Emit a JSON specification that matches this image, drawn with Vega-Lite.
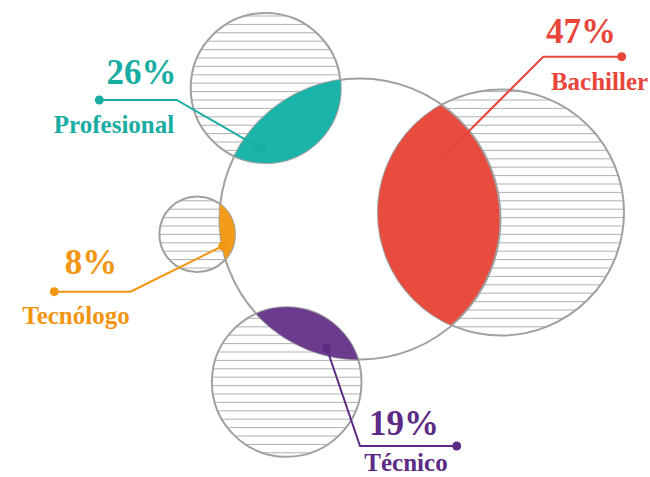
{
  "$schema": "https://vega.github.io/schema/vega-lite/v6.json",
  "width": 650,
  "height": 477,
  "autosize": {"type": "none"},
  "padding": 0,
  "background": "white",
  "config": {"view": {"stroke": null}},
  "datasets": {
    "circles": [
      {"name": "Centro", "kind": "center", "cx": 360, "cy": 219, "r": 140.5},
      {"name": "Profesional", "kind": "outer", "cx": 265.7, "cy": 88, "r": 75},
      {"name": "Bachiller", "kind": "outer", "cx": 501, "cy": 212.5, "r": 123},
      {"name": "Tecnólogo", "kind": "outer", "cx": 197.2, "cy": 234.2, "r": 37.8},
      {"name": "Técnico", "kind": "outer", "cx": 286.7, "cy": 382, "r": 74.8}
    ],
    "hatch": [
      {"g": "Profesional", "y": 16.0, "x1": 190.7, "x2": 340.7},
      {"g": "Profesional", "y": 24.4, "x1": 190.7, "x2": 340.7},
      {"g": "Profesional", "y": 32.8, "x1": 190.7, "x2": 340.7},
      {"g": "Profesional", "y": 41.2, "x1": 190.7, "x2": 340.7},
      {"g": "Profesional", "y": 49.6, "x1": 190.7, "x2": 340.7},
      {"g": "Profesional", "y": 58.0, "x1": 190.7, "x2": 340.7},
      {"g": "Profesional", "y": 66.4, "x1": 190.7, "x2": 340.7},
      {"g": "Profesional", "y": 74.8, "x1": 190.7, "x2": 340.7},
      {"g": "Profesional", "y": 83.2, "x1": 190.7, "x2": 340.7},
      {"g": "Profesional", "y": 91.6, "x1": 190.7, "x2": 340.7},
      {"g": "Profesional", "y": 100.0, "x1": 190.7, "x2": 340.7},
      {"g": "Profesional", "y": 108.4, "x1": 190.7, "x2": 340.7},
      {"g": "Profesional", "y": 116.8, "x1": 190.7, "x2": 340.7},
      {"g": "Profesional", "y": 125.2, "x1": 190.7, "x2": 340.7},
      {"g": "Profesional", "y": 133.6, "x1": 190.7, "x2": 340.7},
      {"g": "Profesional", "y": 142.0, "x1": 190.7, "x2": 340.7},
      {"g": "Profesional", "y": 150.4, "x1": 190.7, "x2": 340.7},
      {"g": "Profesional", "y": 158.8, "x1": 190.7, "x2": 340.7},
      {"g": "Bachiller", "y": 91.6, "x1": 378, "x2": 624},
      {"g": "Bachiller", "y": 100.0, "x1": 378, "x2": 624},
      {"g": "Bachiller", "y": 108.4, "x1": 378, "x2": 624},
      {"g": "Bachiller", "y": 116.8, "x1": 378, "x2": 624},
      {"g": "Bachiller", "y": 125.2, "x1": 378, "x2": 624},
      {"g": "Bachiller", "y": 133.6, "x1": 378, "x2": 624},
      {"g": "Bachiller", "y": 142.0, "x1": 378, "x2": 624},
      {"g": "Bachiller", "y": 150.4, "x1": 378, "x2": 624},
      {"g": "Bachiller", "y": 158.8, "x1": 378, "x2": 624},
      {"g": "Bachiller", "y": 167.2, "x1": 378, "x2": 624},
      {"g": "Bachiller", "y": 175.6, "x1": 378, "x2": 624},
      {"g": "Bachiller", "y": 184.0, "x1": 378, "x2": 624},
      {"g": "Bachiller", "y": 192.4, "x1": 378, "x2": 624},
      {"g": "Bachiller", "y": 200.8, "x1": 378, "x2": 624},
      {"g": "Bachiller", "y": 209.2, "x1": 378, "x2": 624},
      {"g": "Bachiller", "y": 217.6, "x1": 378, "x2": 624},
      {"g": "Bachiller", "y": 226.0, "x1": 378, "x2": 624},
      {"g": "Bachiller", "y": 234.4, "x1": 378, "x2": 624},
      {"g": "Bachiller", "y": 242.8, "x1": 378, "x2": 624},
      {"g": "Bachiller", "y": 251.2, "x1": 378, "x2": 624},
      {"g": "Bachiller", "y": 259.6, "x1": 378, "x2": 624},
      {"g": "Bachiller", "y": 268.0, "x1": 378, "x2": 624},
      {"g": "Bachiller", "y": 276.4, "x1": 378, "x2": 624},
      {"g": "Bachiller", "y": 284.8, "x1": 378, "x2": 624},
      {"g": "Bachiller", "y": 293.2, "x1": 378, "x2": 624},
      {"g": "Bachiller", "y": 301.6, "x1": 378, "x2": 624},
      {"g": "Bachiller", "y": 310.0, "x1": 378, "x2": 624},
      {"g": "Bachiller", "y": 318.4, "x1": 378, "x2": 624},
      {"g": "Bachiller", "y": 326.8, "x1": 378, "x2": 624},
      {"g": "Tecnólogo", "y": 200.8, "x1": 159.4, "x2": 235},
      {"g": "Tecnólogo", "y": 209.2, "x1": 159.4, "x2": 235},
      {"g": "Tecnólogo", "y": 217.6, "x1": 159.4, "x2": 235},
      {"g": "Tecnólogo", "y": 226.0, "x1": 159.4, "x2": 235},
      {"g": "Tecnólogo", "y": 234.4, "x1": 159.4, "x2": 235},
      {"g": "Tecnólogo", "y": 242.8, "x1": 159.4, "x2": 235},
      {"g": "Tecnólogo", "y": 251.2, "x1": 159.4, "x2": 235},
      {"g": "Tecnólogo", "y": 259.6, "x1": 159.4, "x2": 235},
      {"g": "Tecnólogo", "y": 268.0, "x1": 159.4, "x2": 235},
      {"g": "Técnico", "y": 310.0, "x1": 211.9, "x2": 361.5},
      {"g": "Técnico", "y": 318.4, "x1": 211.9, "x2": 361.5},
      {"g": "Técnico", "y": 326.8, "x1": 211.9, "x2": 361.5},
      {"g": "Técnico", "y": 335.2, "x1": 211.9, "x2": 361.5},
      {"g": "Técnico", "y": 343.6, "x1": 211.9, "x2": 361.5},
      {"g": "Técnico", "y": 352.0, "x1": 211.9, "x2": 361.5},
      {"g": "Técnico", "y": 360.4, "x1": 211.9, "x2": 361.5},
      {"g": "Técnico", "y": 368.8, "x1": 211.9, "x2": 361.5},
      {"g": "Técnico", "y": 377.2, "x1": 211.9, "x2": 361.5},
      {"g": "Técnico", "y": 385.6, "x1": 211.9, "x2": 361.5},
      {"g": "Técnico", "y": 394.0, "x1": 211.9, "x2": 361.5},
      {"g": "Técnico", "y": 402.4, "x1": 211.9, "x2": 361.5},
      {"g": "Técnico", "y": 410.8, "x1": 211.9, "x2": 361.5},
      {"g": "Técnico", "y": 419.2, "x1": 211.9, "x2": 361.5},
      {"g": "Técnico", "y": 427.6, "x1": 211.9, "x2": 361.5},
      {"g": "Técnico", "y": 436.0, "x1": 211.9, "x2": 361.5},
      {"g": "Técnico", "y": 444.4, "x1": 211.9, "x2": 361.5},
      {"g": "Técnico", "y": 452.8, "x1": 211.9, "x2": 361.5}
    ],
    "lensBach": [
      {"g": "Bachiller", "y": 104.7, "xa": 441.75, "xb": 441.75},
      {"g": "Bachiller", "y": 107, "xa": 437.76, "xb": 444.83},
      {"g": "Bachiller", "y": 110, "xa": 433.01, "xb": 448.65},
      {"g": "Bachiller", "y": 115, "xa": 426.01, "xb": 454.47},
      {"g": "Bachiller", "y": 122, "xa": 417.70, "xb": 461.64},
      {"g": "Bachiller", "y": 130, "xa": 409.77, "xb": 468.72},
      {"g": "Bachiller", "y": 140, "xa": 401.64, "xb": 476.19},
      {"g": "Bachiller", "y": 152, "xa": 393.91, "xb": 483.50},
      {"g": "Bachiller", "y": 166, "xa": 387.13, "xb": 490.12},
      {"g": "Bachiller", "y": 182, "xa": 381.84, "xb": 495.54},
      {"g": "Bachiller", "y": 198, "xa": 378.86, "xb": 498.92},
      {"g": "Bachiller", "y": 212.5, "xa": 378.0, "xb": 500.35},
      {"g": "Bachiller", "y": 228, "xa": 378.98, "xb": 500.21},
      {"g": "Bachiller", "y": 244, "xa": 382.10, "xb": 498.26},
      {"g": "Bachiller", "y": 260, "xa": 387.54, "xb": 494.38},
      {"g": "Bachiller", "y": 275, "xa": 395.06, "xb": 488.86},
      {"g": "Bachiller", "y": 290, "xa": 405.49, "xb": 481.24},
      {"g": "Bachiller", "y": 302, "xa": 416.63, "xb": 473.36},
      {"g": "Bachiller", "y": 312, "xa": 428.69, "xb": 465.32},
      {"g": "Bachiller", "y": 319, "xa": 439.46, "xb": 458.69},
      {"g": "Bachiller", "y": 323, "xa": 446.97, "xb": 454.47},
      {"g": "Bachiller", "y": 325.3, "xa": 451.9, "xb": 451.9}
    ],
    "lensTecn": [
      {"g": "Tecnólogo", "y": 204.25, "xa": 220.3, "xb": 220.3},
      {"g": "Tecnólogo", "y": 207, "xa": 220.01, "xb": 223.45},
      {"g": "Tecnólogo", "y": 211, "xa": 219.73, "xb": 227.04},
      {"g": "Tecnólogo", "y": 216, "xa": 219.53, "xb": 230.33},
      {"g": "Tecnólogo", "y": 222, "xa": 219.53, "xb": 232.98},
      {"g": "Tecnólogo", "y": 228, "xa": 219.79, "xb": 234.49},
      {"g": "Tecnólogo", "y": 234.2, "xa": 220.32, "xb": 235.0},
      {"g": "Tecnólogo", "y": 240, "xa": 221.08, "xb": 234.55},
      {"g": "Tecnólogo", "y": 246, "xa": 222.12, "xb": 233.11},
      {"g": "Tecnólogo", "y": 251, "xa": 223.19, "xb": 231.06},
      {"g": "Tecnólogo", "y": 255, "xa": 224.19, "xb": 228.76},
      {"g": "Tecnólogo", "y": 258, "xa": 225.02, "xb": 226.57},
      {"g": "Tecnólogo", "y": 259.4, "xa": 225.4, "xb": 225.4}
    ],
    "lensV": [
      {"g": "Profesional", "x": 234.3, "ya": 156.2, "yb": 156.2},
      {"g": "Profesional", "x": 236, "ya": 152.94, "yb": 156.87},
      {"g": "Profesional", "x": 239, "ya": 147.59, "yb": 158.09},
      {"g": "Profesional", "x": 244, "ya": 139.73, "yb": 159.79},
      {"g": "Profesional", "x": 250, "ya": 131.59, "yb": 161.34},
      {"g": "Profesional", "x": 258, "ya": 122.38, "yb": 162.60},
      {"g": "Profesional", "x": 267, "ya": 113.68, "yb": 162.99},
      {"g": "Profesional", "x": 277, "ya": 105.64, "yb": 162.14},
      {"g": "Profesional", "x": 287, "ya": 98.95, "yb": 159.91},
      {"g": "Profesional", "x": 297, "ya": 93.42, "yb": 156.16},
      {"g": "Profesional", "x": 307, "ya": 88.88, "yb": 150.60},
      {"g": "Profesional", "x": 316, "ya": 85.57, "yb": 143.63},
      {"g": "Profesional", "x": 324, "ya": 83.19, "yb": 135.18},
      {"g": "Profesional", "x": 330, "ya": 81.74, "yb": 126.61},
      {"g": "Profesional", "x": 335, "ya": 80.74, "yb": 116.68},
      {"g": "Profesional", "x": 338, "ya": 80.23, "yb": 107.94},
      {"g": "Profesional", "x": 339.5, "ya": 80.0, "yb": 101.36},
      {"g": "Profesional", "x": 340.3, "ya": 80.26, "yb": 95.74},
      {"g": "Profesional", "x": 340.5, "ya": 82.53, "yb": 93.47},
      {"g": "Profesional", "x": 340.7, "ya": 88, "yb": 88},
      {"g": "Técnico", "x": 256.3, "ya": 313.7, "yb": 313.7},
      {"g": "Técnico", "x": 260, "ya": 312.13, "yb": 317.69},
      {"g": "Técnico", "x": 266, "ya": 310.12, "yb": 323.42},
      {"g": "Técnico", "x": 274, "ya": 308.29, "yb": 330.11},
      {"g": "Técnico", "x": 284, "ya": 307.25, "yb": 337.17},
      {"g": "Técnico", "x": 295, "ya": 307.66, "yb": 343.56},
      {"g": "Técnico", "x": 306, "ya": 309.73, "yb": 348.71},
      {"g": "Técnico", "x": 317, "ya": 313.61, "yb": 352.76},
      {"g": "Técnico", "x": 327, "ya": 318.98, "yb": 355.57},
      {"g": "Técnico", "x": 336, "ya": 325.75, "yb": 357.43},
      {"g": "Técnico", "x": 343, "ya": 332.75, "yb": 358.47},
      {"g": "Técnico", "x": 349, "ya": 340.60, "yb": 359.07},
      {"g": "Técnico", "x": 353, "ya": 347.37, "yb": 359.33},
      {"g": "Técnico", "x": 356, "ya": 353.85, "yb": 359.44},
      {"g": "Técnico", "x": 358.0, "ya": 359.45, "yb": 359.45}
    ],
    "leaders": [
      {"g": "Bachiller", "i": 0, "x": 621.7, "y": 56.7},
      {"g": "Bachiller", "i": 1, "x": 543.3, "y": 56.7},
      {"g": "Bachiller", "i": 2, "x": 447.3, "y": 152.7},
      {"g": "Profesional", "i": 0, "x": 99.3, "y": 100},
      {"g": "Profesional", "i": 1, "x": 176.7, "y": 100},
      {"g": "Profesional", "i": 2, "x": 261.7, "y": 149},
      {"g": "Tecnólogo", "i": 0, "x": 54.3, "y": 291.7},
      {"g": "Tecnólogo", "i": 1, "x": 130.5, "y": 291.7},
      {"g": "Tecnólogo", "i": 2, "x": 222.7, "y": 246},
      {"g": "Técnico", "i": 0, "x": 456.7, "y": 446},
      {"g": "Técnico", "i": 1, "x": 360, "y": 446},
      {"g": "Técnico", "i": 2, "x": 326.7, "y": 348.3}
    ],
    "labels": [
      {"g": "Bachiller", "kind": "pct", "t": "47%", "x": 581, "y": 42.5},
      {"g": "Bachiller", "kind": "name", "t": "Bachiller", "x": 599.5, "y": 90},
      {"g": "Profesional", "kind": "pct", "t": "26%", "x": 141.5, "y": 84},
      {"g": "Profesional", "kind": "name", "t": "Profesional", "x": 114, "y": 132.5},
      {"g": "Tecnólogo", "kind": "pct", "t": "8%", "x": 91, "y": 274},
      {"g": "Tecnólogo", "kind": "name", "t": "Tecnólogo", "x": 76, "y": 323.5},
      {"g": "Técnico", "kind": "pct", "t": "19%", "x": 404, "y": 435},
      {"g": "Técnico", "kind": "name", "t": "Técnico", "x": 406, "y": 471}
    ]
  },
  "resolve": {"scale": {"color": "independent", "size": "independent", "strokeWidth": "independent"}},
  "layer": [
    {
      "data": {"name": "hatch"},
      "mark": {"type": "rule", "color": "#b0b0b0", "strokeWidth": 1},
      "encoding": {
        "x": {"field": "x1", "type": "quantitative", "scale": {"domain": [0, 650], "nice": false, "zero": false}, "axis": null},
        "x2": {"field": "x2"},
        "y": {"field": "y", "type": "quantitative", "scale": {"domain": [0, 477], "nice": false, "zero": false, "reverse": true}, "axis": null}
      }
    },
    {
      "data": {"name": "circles"},
      "transform": [{"filter": "datum.kind == 'outer'"}],
      "mark": {"type": "point", "shape": "circle", "filled": false, "stroke": "white", "fill": null, "opacity": 1},
      "encoding": {
        "x": {"field": "cx", "type": "quantitative", "scale": {"domain": [0, 650], "nice": false, "zero": false}, "axis": null},
        "y": {"field": "cy", "type": "quantitative", "scale": {"domain": [0, 477], "nice": false, "zero": false, "reverse": true}, "axis": null},
        "size": {"field": "r", "type": "quantitative", "scale": {"type": "pow", "exponent": 2, "domain": [0, 200], "range": [0, 250000]}, "legend": null},
        "strokeWidth": {"field": "r", "type": "quantitative", "scale": {"type": "linear", "domain": [0, 200], "range": [0, 100]}, "legend": null}
      }
    },
    {
      "data": {"name": "circles"},
      "transform": [{"filter": "datum.kind == 'outer'"}],
      "mark": {"type": "point", "shape": "circle", "filled": false, "stroke": "#a0a0a0", "fill": null, "strokeWidth": 2, "opacity": 1},
      "encoding": {
        "x": {"field": "cx", "type": "quantitative", "scale": {"domain": [0, 650], "nice": false, "zero": false}, "axis": null},
        "y": {"field": "cy", "type": "quantitative", "scale": {"domain": [0, 477], "nice": false, "zero": false, "reverse": true}, "axis": null},
        "size": {"field": "r", "type": "quantitative", "scale": {"type": "pow", "exponent": 2, "domain": [0, 200], "range": [0, 160000]}, "legend": null}
      }
    },
    {
      "data": {"name": "lensBach"},
      "mark": {"type": "area", "orient": "horizontal", "interpolate": "monotone", "color": "#e84c3f", "opacity": 1},
      "encoding": {
        "y": {"field": "y", "type": "quantitative", "scale": {"domain": [0, 477], "nice": false, "zero": false, "reverse": true}, "axis": null},
        "x": {"field": "xa", "type": "quantitative", "scale": {"domain": [0, 650], "nice": false, "zero": false}, "axis": null},
        "x2": {"field": "xb"}
      }
    },
    {
      "data": {"name": "circles"},
      "transform": [{"filter": "datum.kind == 'center'"}],
      "mark": {"type": "point", "shape": "circle", "filled": false, "stroke": "#a0a0a0", "fill": null, "strokeWidth": 2, "opacity": 1},
      "encoding": {
        "x": {"field": "cx", "type": "quantitative", "scale": {"domain": [0, 650], "nice": false, "zero": false}, "axis": null},
        "y": {"field": "cy", "type": "quantitative", "scale": {"domain": [0, 477], "nice": false, "zero": false, "reverse": true}, "axis": null},
        "size": {"field": "r", "type": "quantitative", "scale": {"type": "pow", "exponent": 2, "domain": [0, 200], "range": [0, 160000]}, "legend": null}
      }
    },
    {
      "data": {"name": "lensTecn"},
      "mark": {"type": "area", "orient": "horizontal", "interpolate": "monotone", "color": "#f39c1b", "opacity": 1},
      "encoding": {
        "y": {"field": "y", "type": "quantitative", "scale": {"domain": [0, 477], "nice": false, "zero": false, "reverse": true}, "axis": null},
        "x": {"field": "xa", "type": "quantitative", "scale": {"domain": [0, 650], "nice": false, "zero": false}, "axis": null},
        "x2": {"field": "xb"}
      }
    },
    {
      "data": {"name": "lensV"},
      "mark": {"type": "area", "orient": "vertical", "interpolate": "monotone", "opacity": 1},
      "encoding": {
        "x": {"field": "x", "type": "quantitative", "scale": {"domain": [0, 650], "nice": false, "zero": false}, "axis": null},
        "y": {"field": "ya", "type": "quantitative", "scale": {"domain": [0, 477], "nice": false, "zero": false, "reverse": true}, "axis": null},
        "y2": {"field": "yb"},
        "color": {"field": "g", "type": "nominal", "scale": {"domain": ["Profesional", "Técnico"], "range": ["#1bb4aa", "#6b3b8e"]}, "legend": null}
      }
    },
    {
      "data": {"name": "leaders"},
      "mark": {"type": "line", "strokeWidth": 2, "opacity": 1},
      "encoding": {
        "x": {"field": "x", "type": "quantitative", "scale": {"domain": [0, 650], "nice": false, "zero": false}, "axis": null},
        "y": {"field": "y", "type": "quantitative", "scale": {"domain": [0, 477], "nice": false, "zero": false, "reverse": true}, "axis": null},
        "order": {"field": "i", "type": "quantitative"},
        "color": {"field": "g", "type": "nominal", "scale": {"domain": ["Bachiller", "Profesional", "Tecnólogo", "Técnico"], "range": ["#e8453b", "#17ada3", "#f29511", "#5c2b85"]}, "legend": null}
      }
    },
    {
      "data": {"name": "leaders"},
      "transform": [{"filter": "datum.i != 1"}],
      "mark": {"type": "point", "shape": "circle", "filled": true, "size": 80, "opacity": 1},
      "encoding": {
        "x": {"field": "x", "type": "quantitative", "scale": {"domain": [0, 650], "nice": false, "zero": false}, "axis": null},
        "y": {"field": "y", "type": "quantitative", "scale": {"domain": [0, 477], "nice": false, "zero": false, "reverse": true}, "axis": null},
        "color": {"field": "g", "type": "nominal", "scale": {"domain": ["Bachiller", "Profesional", "Tecnólogo", "Técnico"], "range": ["#e8453b", "#17ada3", "#f29511", "#5c2b85"]}, "legend": null}
      }
    },
    {
      "data": {"name": "labels"},
      "transform": [{"filter": "datum.kind == 'pct'"}],
      "mark": {"type": "text", "font": "Liberation Serif", "fontWeight": "bold", "fontSize": 35, "align": "center", "baseline": "alphabetic"},
      "encoding": {
        "x": {"field": "x", "type": "quantitative", "scale": {"domain": [0, 650], "nice": false, "zero": false}, "axis": null},
        "y": {"field": "y", "type": "quantitative", "scale": {"domain": [0, 477], "nice": false, "zero": false, "reverse": true}, "axis": null},
        "text": {"field": "t"},
        "color": {"field": "g", "type": "nominal", "scale": {"domain": ["Bachiller", "Profesional", "Tecnólogo", "Técnico"], "range": ["#e8453b", "#17ada3", "#f29511", "#5c2b85"]}, "legend": null}
      }
    },
    {
      "data": {"name": "labels"},
      "transform": [{"filter": "datum.kind == 'name'"}],
      "mark": {"type": "text", "font": "Liberation Serif", "fontWeight": "bold", "fontSize": 25, "align": "center", "baseline": "alphabetic"},
      "encoding": {
        "x": {"field": "x", "type": "quantitative", "scale": {"domain": [0, 650], "nice": false, "zero": false}, "axis": null},
        "y": {"field": "y", "type": "quantitative", "scale": {"domain": [0, 477], "nice": false, "zero": false, "reverse": true}, "axis": null},
        "text": {"field": "t"},
        "color": {"field": "g", "type": "nominal", "scale": {"domain": ["Bachiller", "Profesional", "Tecnólogo", "Técnico"], "range": ["#e8453b", "#17ada3", "#f29511", "#5c2b85"]}, "legend": null}
      }
    }
  ]
}
